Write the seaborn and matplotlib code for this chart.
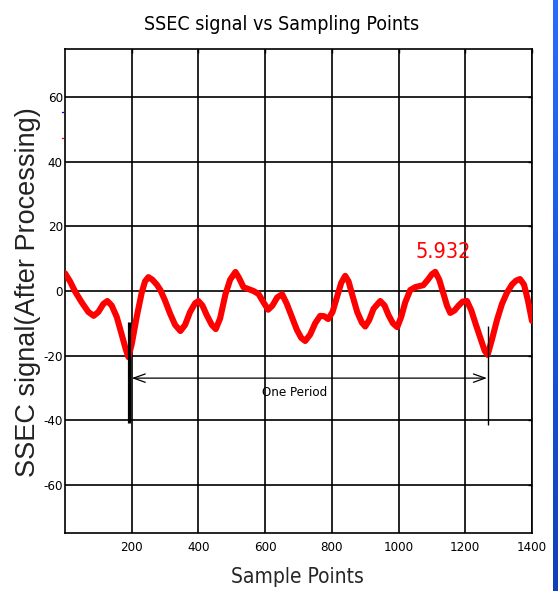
import numpy as np
import pandas as pd
import matplotlib
matplotlib.use("Agg")
import matplotlib.pyplot as plt
import seaborn as sns

# SSEC signal after processing, sampled along the record
samples = [0, 15, 31, 50, 70, 86, 100, 115, 127, 140, 155, 170, 182, 190, 200,
           215, 230, 240, 250, 262, 275, 286, 300, 315, 330, 346, 360, 375, 390,
           400, 412, 425, 440, 452, 465, 481, 495, 511, 522, 535, 550, 565, 580,
           595, 609, 622, 636, 651, 665, 680, 695, 708, 720, 735, 750, 765, 777,
           789, 802, 815, 828, 840, 850, 862, 876, 890, 900, 912, 925, 945, 958,
           970, 983, 996, 1008, 1020, 1035, 1050, 1062, 1074, 1088, 1100, 1110,
           1122, 1135, 1145, 1155, 1168, 1180, 1192, 1205, 1218, 1232, 1245, 1258,
           1267, 1280, 1295, 1310, 1325, 1340, 1352, 1364, 1376, 1388, 1400]
signal = [5.5, 3.0, -0.3, -3.5, -6.5, -7.7, -6.5, -4.0, -3.1, -4.5, -8.0, -13.5,
          -18.0, -20.5, -16.5, -8.0, -0.5, 3.0, 4.3, 3.5, 2.0, 0.3, -3.0, -7.0,
          -10.5, -12.4, -10.5, -6.5, -3.8, -3.1, -4.5, -7.5, -10.5, -11.8, -8.5,
          -1.0, 3.5, 5.9, 4.0, 1.2, 0.6, 0.0, -0.9, -3.5, -5.8, -4.5, -2.0, -1.0,
          -4.0, -8.0, -12.0, -14.5, -15.5, -13.5, -10.0, -7.7, -7.8, -8.7, -6.5,
          -2.0, 2.5, 4.7, 3.0, -1.5, -6.5, -9.8, -11.0, -9.0, -5.5, -3.1, -4.5,
          -7.5, -10.0, -11.2, -8.0, -3.5, 0.3, 1.2, 1.5, 1.8, 3.5, 5.2, 5.932,
          3.5, -1.0, -4.5, -6.8, -6.0, -4.5, -3.3, -3.1, -6.0, -10.5, -14.5, -18.5,
          -19.8, -15.0, -9.0, -4.0, -0.5, 2.0, 3.2, 3.7, 2.0, -3.0, -9.3]

x_ticks = [200, 400, 600, 800, 1000, 1200, 1400]
y_ticks = [-60, -40, -20, 0, 20, 40, 60]

# period markers: start / end sample of one period and the peak annotation
period_start, period_end = 193, 1267
peak_sample = 1110
peak_value = 5.932

sns.set_theme(style="white", rc={
    "axes.edgecolor": "black",
    "axes.linewidth": 1.2,
    "grid.color": "black",
    "grid.linewidth": 1.2,
})
plt.rcParams["font.family"] = ["DejaVu Sans"]
plt.rcParams["font.stretch"] = "condensed"
plt.rcParams["axes.unicode_minus"] = False
cond = dict(family="DejaVu Sans", fontstretch="condensed")

df = pd.DataFrame({"Sample Points": samples, "signal": signal})

fig = plt.figure(figsize=(5.58, 5.91), dpi=100)
ax = fig.add_axes([65 / 558, 1 - 533 / 591, 467 / 558, 484 / 591])

sns.lineplot(data=df, x="Sample Points", y="signal", ax=ax, color="#ff0000",
             linewidth=4.4, estimator=None, sort=False, zorder=3,
             solid_joinstyle="round", solid_capstyle="round")

ax.set_xlim(0, 1400)
ax.set_ylim(-75, 75)
ax.set_xticks(x_ticks)
ax.set_yticks(y_ticks)
ax.grid(True, color="black", linewidth=1.2, zorder=1)
ax.set_axisbelow(True)
ax.tick_params(axis="both", direction="in", length=3, width=1, colors="black",
               labelsize=9.5, top=True, right=True)
ax.tick_params(axis="x", pad=6)
ax.tick_params(axis="y", pad=1.5)
for lab in ax.get_xticklabels() + ax.get_yticklabels():
    lab.set_family("DejaVu Sans")
    lab.set_stretch("condensed")

# one-period markers and arrow
ax.plot([period_start, period_start], [-9.6, -41], color="black", lw=2.3,
        zorder=4, solid_capstyle="butt")
ax.plot([period_end, period_end], [-10.8, -41.5], color="black", lw=1.0,
        zorder=4, solid_capstyle="butt")
ax.annotate("", xy=(200, -27), xytext=(1265, -27),
            arrowprops=dict(arrowstyle="<->,head_length=0.7,head_width=0.25",
                            color="black", lw=0.9, shrinkA=0, shrinkB=0),
            zorder=4)
ax.text(687, -31.6, "One Period", ha="center", va="center", fontsize=9.5,
        color="black", zorder=5, **cond)
ax.text(1133, 12.1, f"{peak_value:.3f}", ha="center", va="center", fontsize=15.5,
        color="#ff0000", zorder=5, **cond)

# stray legend marks beside the y axis
ax.plot([-9, -5], [55.6, 55.6], color="#0000ff", lw=1, clip_on=False)
ax.plot([-9, -5], [47.3, 47.3], color="#ff0000", lw=1, clip_on=False)

ax.set_xlabel("Sample Points", fontsize=15, **cond)
ax.xaxis.set_label_coords((297 - 65) / 467, (533 - 577) / 484)
ax.xaxis.label.set_verticalalignment("center")
ax.set_ylabel("SSEC signal(After Processing)", fontsize=19.5,
              family="Liberation Sans", fontstretch="normal", color="#222222")
ax.yaxis.set_label_coords((28 - 65) / 467, (533 - 292) / 484)
ax.yaxis.label.set_verticalalignment("center")

fig.text(282 / 558, 1 - 25 / 591, "SSEC signal vs Sampling Points", ha="center",
         va="center", fontsize=14, color="black", **cond)

# blue frame strip along the right edge
strip = fig.add_axes([553 / 558, 0, 5 / 558, 1])
grad = np.linspace(0, 1, 256).reshape(-1, 1)
cmap = matplotlib.colors.LinearSegmentedColormap.from_list(
    "edge", ["#2a6cff", "#1a55e0", "#1040b8"])
strip.imshow(grad, aspect="auto", cmap=cmap, extent=[0, 1, 0, 1], origin="upper")
strip.set_axis_off()

fig.savefig("out.png", dpi=100)
